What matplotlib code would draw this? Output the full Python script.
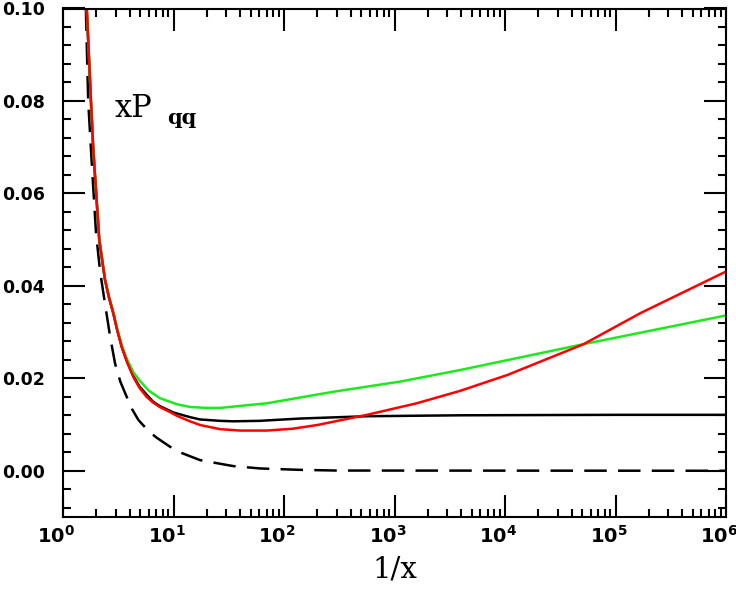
import matplotlib
matplotlib.use('Agg')
import matplotlib.pyplot as plt
import matplotlib.transforms as mtransforms
from matplotlib.ticker import MultipleLocator, LogLocator, NullFormatter, FixedLocator

plt.rcParams['mathtext.fontset'] = 'dejavusans'

# curvas (1/x, xP_qq)
x_preto = [1.64, 1.79, 1.88, 2.13, 2.40, 2.6, 2.85, 3.1, 3.40, 3.8, 4.33, 4.9, 5.7, 6.5, 7.5,
           10.0, 14.1, 17.4, 26.4, 34.7, 60, 140, 563, 3940, 1e5, 1e6]
y_preto = [0.100, 0.080, 0.0694, 0.0499, 0.0413, 0.0376, 0.0341, 0.0304, 0.0268, 0.0236,
           0.0205, 0.0183, 0.0165, 0.0150, 0.0140, 0.0126, 0.0116, 0.0111, 0.0108, 0.0107,
           0.0108, 0.0113, 0.0118, 0.0120, 0.0121, 0.0121]

x_verm = [1.64, 1.79, 1.88, 2.13, 2.40, 2.6, 2.85, 3.1, 3.40, 3.8, 4.33, 4.9, 5.7, 6.5, 7.5,
          9.3, 10.7, 14.1, 17.4, 26.4, 40, 70, 120, 200, 563, 1590, 3940, 10450, 51600,
          168000, 1e6]
y_verm = [0.100, 0.080, 0.0694, 0.0499, 0.0413, 0.0376, 0.0341, 0.0303, 0.0268, 0.0235,
          0.0203, 0.0180, 0.0160, 0.0148, 0.0138, 0.0127, 0.0119, 0.0107, 0.0099, 0.0090,
          0.0087, 0.0087, 0.0091, 0.0099, 0.0121, 0.0146, 0.0173, 0.0207, 0.0274, 0.0341,
          0.0431]

x_verde = [1.64, 1.79, 1.88, 2.13, 2.40, 2.6, 2.85, 3.1, 3.40, 3.8, 4.33, 4.98, 6.0, 7.55,
           10.7, 14.1, 20, 26.4, 70, 281, 1130, 3940, 51600, 1e6]
y_verde = [0.100, 0.080, 0.0694, 0.0499, 0.0414, 0.0378, 0.0343, 0.0307, 0.0272, 0.0241,
           0.0213, 0.0194, 0.0173, 0.0157, 0.0144, 0.0138, 0.0136, 0.0136, 0.0146, 0.0171,
           0.0193, 0.0218, 0.0274, 0.0336]

x_trac = [1.61, 1.69, 1.82, 1.99, 2.16, 2.32, 2.67, 2.96, 3.3, 3.77, 4.2, 4.81, 5.34, 6.0,
          7.0, 9.3, 12, 17.4, 21.5, 35, 61, 139, 300, 1e6]
y_trac = [0.100, 0.080, 0.0666, 0.0514, 0.0434, 0.0384, 0.0290, 0.0232, 0.0193, 0.0160,
          0.0134, 0.0110, 0.0098, 0.0085, 0.0072, 0.0052, 0.0038, 0.0023, 0.0019, 0.0010,
          0.0005, 0.0002, 0.00005, 0.0]

xticks = [1, 10, 100, 1e3, 1e4, 1e5, 1e6]
xlabels = [r'$\mathbf{10^{%d}}$' % i for i in range(7)]
yticks = [0.00, 0.02, 0.04, 0.06, 0.08, 0.10]

fig = plt.figure(figsize=(7.36, 5.90), dpi=100)
ax = fig.add_axes([63/736, 1 - 517/590, (726 - 63)/736, (517 - 8.5)/590])

ax.plot(x_trac, y_trac, color='black', lw=1.8, linestyle=(0, (9, 4.5)))
ax.plot(x_preto, y_preto, color='black', lw=1.8)
ax.plot(x_verde, y_verde, color='#1ee81e', lw=1.8)
ax.plot(x_verm, y_verm, color='#ff0000', lw=1.8)

ax.set_xscale('log')
ax.set_xlim(1, 1e6)
ax.set_ylim(-0.01, 0.10)

ax.xaxis.set_major_locator(FixedLocator(xticks))
ax.set_xticklabels(xlabels)
ax.xaxis.set_minor_locator(LogLocator(base=10, subs=range(2, 10), numticks=20))
ax.xaxis.set_minor_formatter(NullFormatter())
ax.yaxis.set_major_locator(FixedLocator(yticks))
ax.set_yticklabels(['%.2f' % v for v in yticks])
ax.yaxis.set_minor_locator(MultipleLocator(0.004))

for s in ax.spines.values():
    s.set_linewidth(1.5)
ax.tick_params(which='both', direction='in', top=True, right=True, width=1.5)
ax.tick_params(which='major', length=16)
ax.tick_params(which='minor', length=6)
ax.tick_params(axis='y', which='major', pad=13)
ax.tick_params(axis='x', which='major', pad=6)
for lab in ax.get_yticklabels():
    lab.set_fontsize(12.5)
    lab.set_fontweight('bold')
desloc = mtransforms.ScaledTranslation(-7/100, 0, fig.dpi_scale_trans)
for lab in ax.get_xticklabels():
    lab.set_fontsize(14)
    lab.set_transform(lab.get_transform() + desloc)

ax.set_xlabel('1/x', family='DejaVu Serif', fontsize=21, labelpad=6)
fig.text(115/736, 1 - 117/590, 'xP', family='DejaVu Serif', fontsize=22, va='baseline')
fig.text(167/736, 1 - 124/590, 'qq', family='DejaVu Serif', fontsize=15,
         fontweight='bold', va='baseline')

fig.savefig('out.png', dpi=100)
